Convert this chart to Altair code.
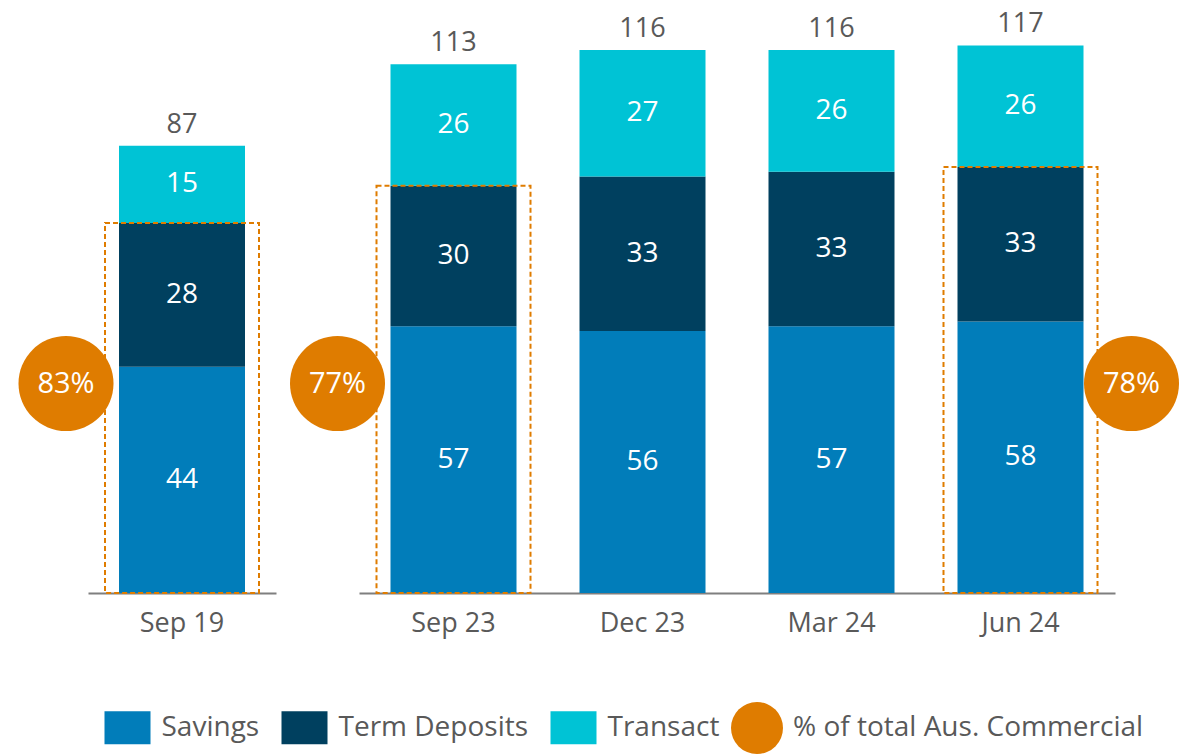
import altair as alt
import pandas as pd

# ---------------- data ----------------
periods_left = ["Sep 19"]
periods_right = ["Sep 23", "Dec 23", "Mar 24", "Jun 24"]
periods = periods_left + periods_right
savings = [44, 57, 56, 57, 58]
term_deposits = [28, 30, 33, 33, 33]
transact = [15, 26, 27, 26, 26]
totals = [87, 113, 116, 116, 117]

series = ["Savings", "Term Deposits", "Transact"]
series_colors = ["#017DBA", "#00405F", "#00C3D5"]

pct_periods = ["Sep 19", "Sep 23", "Jun 24"]
pct_labels = ["83%", "77%", "78%"]
pct_side = ["left", "left", "right"]
pct_legend = "% of total Aus. Commercial"
orange = "#DF7C00"

FONT = "Open Sans"
GREY = "#595959"

# ---------------- tables ----------------
rows = []
for i, p in enumerate(periods):
    for k, (s, vals) in enumerate(zip(series, [savings, term_deposits, transact])):
        rows.append({"cat": p, "series": s, "value": vals[i], "ord": k})
seg_df = pd.DataFrame(rows)

tot_df = pd.DataFrame({"cat": periods, "total": totals,
                       "box": [s + t for s, t in zip(savings, term_deposits)]})

pct_df = pd.DataFrame({"cat": pct_periods, "pct": pct_labels, "side": pct_side,
                       "lab": [pct_legend] * len(pct_periods)})

fill_legend = alt.Legend(
    orient="none", legendX=16.5, legendY=696.5, direction="horizontal", title=None,
    symbolType="M-1,-0.717H1V0.717H-1Z", symbolSize=2116, symbolStrokeWidth=0,
    labelFontSize=28, labelFont=FONT, labelColor=GREY, labelOffset=11,
    columnPadding=22, padding=0, labelLimit=400,
)
circ_legend = alt.Legend(
    orient="none", legendX=643, legendY=694, title=None,
    symbolType="circle", symbolSize=2704, symbolStrokeWidth=0, symbolOpacity=1,
    labelFontSize=28, labelFont=FONT, labelColor=GREY, labelOffset=10,
    padding=0, labelLimit=600,
)


def panel(cats, ymax, width):
    xenc = alt.X(
        "cat:N", sort=cats, title=None,
        scale=alt.Scale(domain=cats, paddingInner=0.1, paddingOuter=0.05),
        axis=alt.Axis(labelAngle=0, ticks=False, domainColor="#7F7F7F", domainWidth=2,
                      labelPadding=17, labelFontSize=27, labelFont=FONT,
                      labelColor=GREY, grid=False),
    )
    yscale = alt.Scale(domain=[0, ymax], nice=False, zero=True)

    segs = alt.Chart(seg_df[seg_df["cat"].isin(cats)]).transform_stack(
        stack="value", as_=["v0", "v1"], groupby=["cat"],
        sort=[alt.SortField("ord", order="ascending")],
    ).transform_calculate(mid="(datum.v0 + datum.v1) / 2")

    bars = segs.mark_bar(size=126).encode(
        x=xenc,
        y=alt.Y("v0:Q", scale=yscale, axis=None),
        y2="v1:Q",
        fill=alt.Fill("series:N", scale=alt.Scale(domain=series, range=series_colors),
                      legend=fill_legend),
    )
    seg_text = segs.mark_text(color="white", fontSize=28, font=FONT,
                              baseline="middle").encode(
        x=xenc, y=alt.Y("mid:Q", scale=yscale, axis=None), text="value:Q")

    tot = alt.Chart(tot_df[tot_df["cat"].isin(cats)])
    tot_text = tot.mark_text(color=GREY, fontSize=27, font=FONT,
                             baseline="alphabetic", dy=-13).encode(
        x=xenc, y=alt.Y("total:Q", scale=yscale, axis=None), text="total:Q")

    pct_sub = pct_df[pct_df["cat"].isin(cats)]
    box = alt.Chart(tot_df[tot_df["cat"].isin(pct_sub["cat"])]).mark_bar(
        size=154, filled=False, stroke=orange, strokeWidth=2, strokeDash=[5, 3]
    ).encode(x=xenc, y=alt.Y("box:Q", scale=yscale, axis=None), y2=alt.datum(0))

    layers = [bars, seg_text, tot_text, box]
    for side, off in [("left", -116), ("right", 111)]:
        sub = pct_sub[pct_sub["side"] == side]
        if len(sub) == 0:
            continue
        c = alt.Chart(sub)
        circ = c.mark_circle(size=9025, opacity=1, xOffset=off).encode(
            x=xenc, y=alt.value(375.5),
            color=alt.Color("lab:N", scale=alt.Scale(domain=[pct_legend], range=[orange]),
                            legend=circ_legend),
        )
        ctext = c.mark_text(color="white", fontSize=29, font=FONT, dx=off,
                            baseline="middle").encode(
            x=xenc, y=alt.value(375.5), text="pct:N")
        layers += [circ, ctext]

    return alt.layer(*layers).properties(width=width, height=585)


left = panel(periods_left, 113.8, 188)
right = panel(periods_right, 125, 756)

chart = alt.hconcat(left, right, spacing=83, bounds="flush").properties(
    padding={"left": 10, "top": 0, "right": 0, "bottom": 0}
).configure(font=FONT).configure_view(strokeWidth=0, stroke="transparent")

chart.save("out.html", embed_options={"renderer": "svg", "actions": False})
